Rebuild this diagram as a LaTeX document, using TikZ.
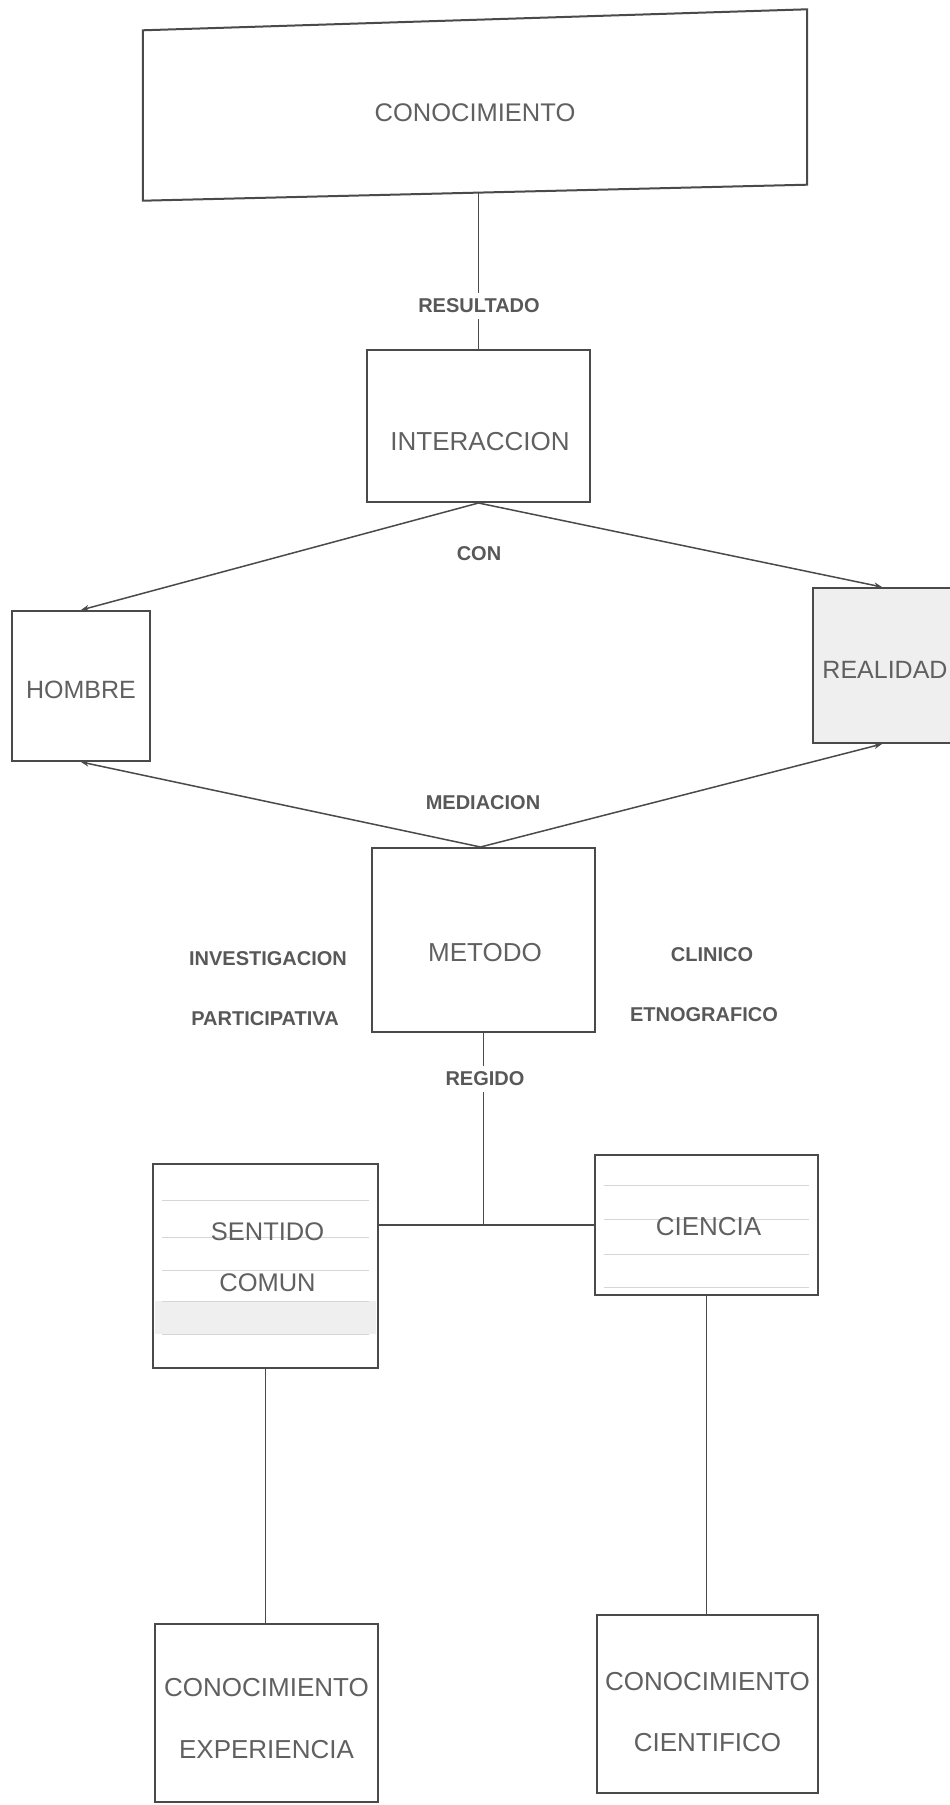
\documentclass[tikz,border=0pt]{standalone}
\usepackage{fontspec}
\setmainfont{Liberation Sans}
\usetikzlibrary{arrows.meta,calc}
\definecolor{edge}{HTML}{4A4A4A}
\definecolor{ink}{HTML}{606060}
\definecolor{tagink}{HTML}{585858}
\definecolor{stripe}{HTML}{D6D6D6}
\definecolor{tint}{HTML}{EFEFEF}
\newcommand{\fsz}[1]{\fontsize{#1}{#1}\selectfont}
\begin{document}
\begin{tikzpicture}[x=1pt,y=-1pt,
  box/.style={draw=edge, line width=2pt, inner sep=0pt},
  word/.style={text=ink, inner sep=0pt, font=\fsz{26}, align=center},
  tag/.style={text=tagink, font=\bfseries\fsz{20}, inner sep=2pt},
  gaptag/.style={tag, fill=white, inner ysep=6pt},
  link/.style={draw=edge, line width=1.5pt},
  tip/.style={-{Stealth[length=8pt,width=6pt]}},
  rule/.style={draw=stripe, line width=0.9pt}
]
\useasboundingbox (0,0) rectangle (950,1805);
\clip (0,0) rectangle (950,1805);

% top box: slightly slanted outline drawn around the node
\node[minimum width=664, minimum height=173, inner sep=0pt] (know) at (475,106) {};
\draw[draw=edge, line width=2pt]
  ($(know.north west)+(0,11)$) -- ($(know.north east)+(0,-10)$) --
  ($(know.south east)+(0,-8)$) -- ($(know.south west)+(0,8)$) -- cycle;
\node[word, font=\fsz{25.5}] (knowt) at ([yshift=-7pt]know.center) {CONOCIMIENTO};

% boxes
\node[box, minimum width=223, minimum height=152] (inter) at (478.5,426) {};
\node[box, minimum width=138, minimum height=150] (man) at (81,686) {};
\node[box, fill=tint, minimum width=147, minimum height=155] (real) at (886.5,665.5) {};
\node[box, minimum width=223, minimum height=184] (met) at (483.5,940) {};
\node[box, minimum width=225, minimum height=204] (sent) at (265.5,1266) {};
\node[box, minimum width=223, minimum height=140] (cien) at (706.5,1225) {};
\node[box, minimum width=223, minimum height=178] (exp) at (266.5,1713) {};
\node[box, minimum width=221, minimum height=178] (sci) at (707.5,1704) {};

% faint ruled bands inside the two middle boxes
\fill[tint] ($(sent.north west)!0.67!(sent.south west)+(3,0)$) rectangle
            ($(sent.north east)!0.83!(sent.south east)+(-3,0)$);
\foreach \f in {0.18,0.36,0.52,0.67,0.83}
  \draw[rule] ($(sent.north west)!\f!(sent.south west)+(10,0)$) --
              ($(sent.north east)!\f!(sent.south east)+(-10,0)$);
\foreach \f in {0.22,0.46,0.71,0.94}
  \draw[rule] ($(cien.north west)!\f!(cien.south west)+(10,0)$) --
              ($(cien.north east)!\f!(cien.south east)+(-10,0)$);

% box texts
\node[word] (intert) at ([xshift=1.5pt,yshift=-16pt]inter.center) {INTERACCION};
\node[word, font=\fsz{25}] (mant) at ([yshift=-4pt]man.center) {HOMBRE};
\node[word, font=\fsz{25}] (realt) at ([xshift=-1.5pt,yshift=-4.5pt]real.center) {REALIDAD};
\node[word] (mett) at ([xshift=1.5pt,yshift=-13pt]met.center) {METODO};
\node[word, font=\fontsize{25.5}{51}\selectfont] (sentt) at ([xshift=2pt,yshift=8.5pt]sent.center) {SENTIDO\\COMUN};
\node[word] (cient) at ([xshift=2pt,yshift=-2pt]cien.center) {CIENCIA};
\node[word, font=\fontsize{26}{62}\selectfont] (expt) at ([yshift=-6pt]exp.center) {CONOCIMIENTO\\EXPERIENCIA};
\node[word, font=\fontsize{26}{61}\selectfont] (scit) at ([yshift=-8.5pt]sci.center) {CONOCIMIENTO\\CIENTIFICO};

% connectors
\draw[link] (know.south -| inter.north) -- (inter.north);
\coordinate (apex) at (inter.south);
\draw[link, tip] (apex) -- (man.north);
\draw[link, tip] (apex) -- ([xshift=-4.5pt]real.north);
\draw[link, tip] ([xshift=-3pt]met.north) -- (man.south);
\draw[link, tip] ([xshift=-3pt]met.north) -- ([xshift=-4.5pt]real.south);

\draw[link] (met.south) -- (met.south |- cien.west) coordinate (joint);
\draw[link] (sent.east |- joint) -- (cien.west);
\draw[link] (sent.south) -- (sent.south |- exp.north);
\draw[link] (cien.south) -- (cien.south |- sci.north);

% labels
\node[gaptag] (res) at (479,306) {RESULTADO};
\node[tag] (con) at (479,554) {CON};
\node[tag] (med) at (483,803) {MEDIACION};
\node[gaptag] (reg) at (485,1079) {REGIDO};
\node[tag] (inv) at (268,959) {INVESTIGACION};
\node[tag] (par) at (265,1019) {PARTICIPATIVA};
\node[tag] (cli) at (712,955) {CLINICO};
\node[tag] (etn) at (704,1015) {ETNOGRAFICO};
\end{tikzpicture}
\end{document}
